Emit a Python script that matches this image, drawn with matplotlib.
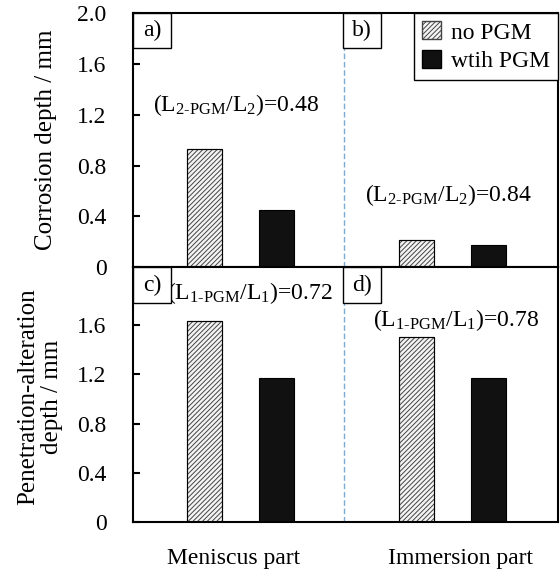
import matplotlib.pyplot as plt
from matplotlib.patches import Rectangle, Patch

plt.rcParams['font.family'] = 'Liberation Serif'
plt.rcParams['mathtext.fontset'] = 'custom'
plt.rcParams['mathtext.rm'] = 'Liberation Serif'
plt.rcParams['mathtext.it'] = 'Liberation Serif:italic'
plt.rcParams['hatch.linewidth'] = 0.7

# data
parts = ['Meniscus part', 'Immersion part']
corr_no_pgm = [0.93, 0.21]
corr_with_pgm = [0.45, 0.175]
pen_no_pgm = [1.63, 1.50]
pen_with_pgm = [1.17, 1.17]
corr_ratio = ['0.48', '0.84']
pen_ratio = ['0.72', '0.78']
corr_ticks = [0, 0.4, 0.8, 1.2, 1.6, 2.0]
corr_ticklabels = ['0', '0.4', '0.8', '1.2', '1.6', '2.0']
pen_ticks = [0, 0.4, 0.8, 1.2, 1.6]
pen_ticklabels = ['0', '0.4', '0.8', '1.2', '1.6']

fs = 17
x = [0, 1]
off = 0.17
w = 0.165

fig = plt.figure(figsize=(5.6, 5.72), dpi=100)
ax1 = fig.add_axes([0.2375, 0.533, 0.759, 0.444])
ax2 = fig.add_axes([0.2375, 0.0874, 0.759, 0.4456])


def draw(ax, no_pgm, with_pgm, ylim, ticks, ticklabels):
    ax.bar([xi - off for xi in x], no_pgm, width=w, facecolor='#f4f4f4',
           edgecolor='#444444', hatch='///////', linewidth=0.8, zorder=2)
    ax.bar([xi - off for xi in x], no_pgm, width=w, facecolor='none',
           edgecolor='black', linewidth=0.8, zorder=3)
    ax.bar([xi + off for xi in x], with_pgm, width=w, color='#111111',
           edgecolor='black', linewidth=0.8, zorder=2)
    ax.axvline(0.487, color='#7aaad8', linestyle=(0, (4, 2)), linewidth=1.0, zorder=1)
    ax.set_xlim(-0.506, 1.499)
    ax.set_ylim(*ylim)
    ax.set_yticks(ticks)
    ax.set_yticklabels(ticklabels)
    ax.tick_params(axis='y', direction='in', length=5, width=1.5, labelsize=fs, pad=19)
    ax.tick_params(axis='x', length=0, labelsize=fs, pad=19)
    for s in ax.spines.values():
        s.set_linewidth(1.5)


def panel_label(ax, x0, label, h):
    ax.add_patch(Rectangle((x0, 1 - h), 0.089, h, transform=ax.transAxes,
                           facecolor='white', edgecolor='black', linewidth=1.0,
                           zorder=5, clip_on=False))
    ax.text(x0 + 0.0445, 1 - h / 2, label, transform=ax.transAxes, ha='center',
            va='center', fontsize=fs, zorder=6)


draw(ax1, corr_no_pgm, corr_with_pgm, (0, 2.0), corr_ticks, corr_ticklabels)
draw(ax2, pen_no_pgm, pen_with_pgm, (0, 2.07), pen_ticks, pen_ticklabels)

ax1.set_xticks([])
ax2.set_xticks([-0.03, 1.04])
ax2.set_xticklabels(parts)

ax1.set_ylabel('Corrosion depth / mm', fontsize=fs + 1)
ax1.yaxis.set_label_coords(-0.178, 0.5)
ax2.set_ylabel('Penetration-alteration\ndepth / mm', fontsize=fs + 1, linespacing=1.15)
ax2.yaxis.set_label_coords(-0.164, 0.49)

panel_label(ax1, 0.0, 'a)', 0.138)
panel_label(ax1, 0.495, 'b)', 0.138)
panel_label(ax2, 0.0, 'c)', 0.141)
panel_label(ax2, 0.495, 'd)', 0.141)

l2 = r'(L$_{\mathrm{2‐PGM}}$/L$_{\mathrm{2}}$)='
l1 = r'(L$_{\mathrm{1‐PGM}}$/L$_{\mathrm{1}}$)='
ax1.text(-0.02, 1.28, l2 + corr_ratio[0], ha='center', va='center', fontsize=fs)
ax1.text(0.98, 0.57, l2 + corr_ratio[1], ha='center', va='center', fontsize=fs)
ax2.text(0.045, 1.86, l1 + pen_ratio[0], ha='center', va='center', fontsize=fs)
ax2.text(1.02, 1.64, l1 + pen_ratio[1], ha='center', va='center', fontsize=fs)

handles = [Patch(facecolor='#f4f4f4', edgecolor='#444444', hatch='///////'),
           Patch(facecolor='#111111', edgecolor='black')]
leg = ax1.legend(handles, ['no PGM', 'wtih PGM'], loc='upper right', fontsize=fs,
                 frameon=True, fancybox=False, framealpha=1, edgecolor='black',
                 handlelength=0.8, handleheight=0.8, handletextpad=0.4,
                 borderaxespad=0.0, borderpad=0.35, labelspacing=0.25)
leg.get_frame().set_linewidth(1.0)
leg.set_zorder(7)

fig.savefig('out.png', dpi=100)
